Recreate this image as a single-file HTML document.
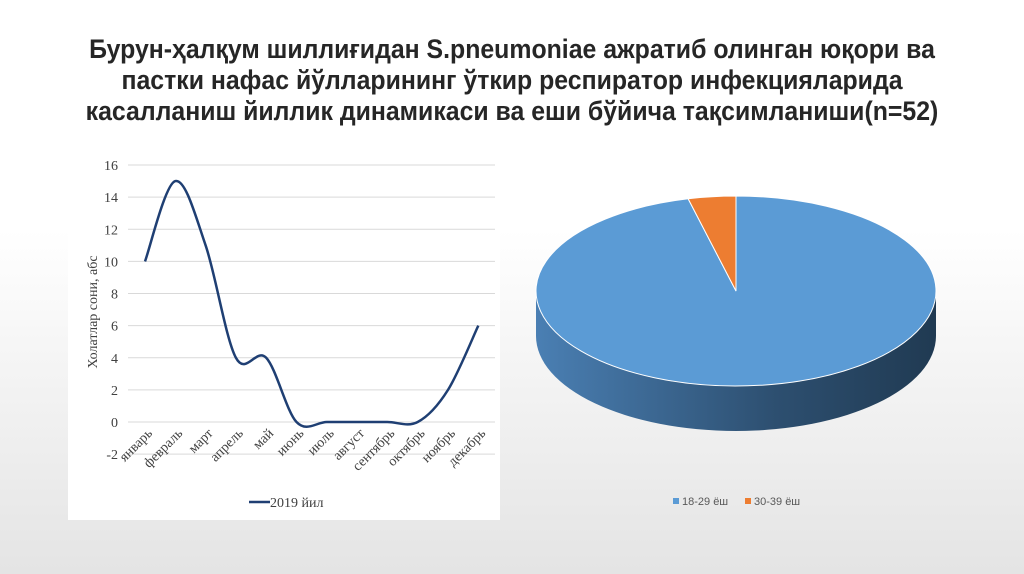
<!DOCTYPE html>
<html><head><meta charset="utf-8">
<style>
body{margin:0;width:1024px;height:574px;overflow:hidden;background:linear-gradient(#ffffff 0%,#ffffff 40%,#e4e4e4 100%);font-family:"Liberation Sans",sans-serif;}
#title{position:absolute;left:0;top:34px;width:1024px;text-align:center;font-size:27px;font-weight:bold;line-height:31px;color:#262626;transform:scaleX(0.92);}
svg{position:absolute;left:0;top:0}
</style></head><body>
<div id="title">Бурун-ҳалқум шиллиғидан S.pneumoniae ажратиб олинган юқори ва<br>пастки нафас йўлларининг ўткир респиратор инфекцияларида<br>касалланиш йиллик динамикаси ва еши бўйича тақсимланиши(n=52)</div>
<svg width="1024" height="574" id="svg">
<defs>
<linearGradient id="side" x1="0" x2="1" y1="0" y2="0">
<stop offset="0" stop-color="#4a7fb3"/><stop offset="0.6" stop-color="#2d4f70"/><stop offset="1" stop-color="#203a52"/>
</linearGradient>
</defs>
<rect x="68" y="150" width="432" height="370" fill="#fff"/>
<g id="lc"></g>
<g id="pc"></g>
</svg>
<script>
const months=["январь","февраль","март","апрель","май","июнь","июль","август","сентябрь","октябрь","ноябрь","декабрь"];
const cases2019=[10,15,11,4,4,0,0,0,0,0,2,6];
const yTicks=[-2,0,2,4,6,8,10,12,14,16];
const pieLabels=["18-29 ёш","30-39 ёш"];
const pieValues=[50,2];
const pieColors=["#5b9bd5","#ed7d31"];
const NS="http://www.w3.org/2000/svg";
function mk(t,a,p){const e=document.createElementNS(NS,t);for(const k in a)e.setAttribute(k,a[k]);p.appendChild(e);return e;}
const lc=document.getElementById('lc');
const y=v=>422-(v)*16.06;
const x=i=>145+i*30.3;
yTicks.forEach(t=>{
 const g=mk('line',{x1:128,x2:495,y1:y(t),y2:y(t),stroke:'#d9d9d9','stroke-width':1},lc);
 
 
 const tx=mk('text',{x:118,y:y(t)+5,'text-anchor':'end','font-family':'Liberation Serif,serif','font-size':14,fill:'#404040'},lc);
 tx.textContent=t;
 
 
});
months.forEach((m,i)=>{
 const tx=mk('text',{x:x(i)+8,y:434,'text-anchor':'end','font-family':'Liberation Serif,serif','font-size':14,fill:'#404040',transform:`rotate(-45 ${x(i)+8} 434)`},lc);
 tx.textContent=m;
 
 
});
const yl=mk('text',{x:0,y:0,'text-anchor':'middle','font-family':'Liberation Serif,serif','font-size':14,fill:'#404040',transform:'translate(97 312) rotate(-90)'},lc);
yl.textContent='Холатлар сони, абс';


const pts=cases2019.map((v,i)=>[x(i),y(v)]);
let d=`M${pts[0][0]},${pts[0][1]}`;
for(let i=0;i<pts.length-1;i++){const p0=pts[Math.max(0,i-1)],p1=pts[i],p2=pts[i+1],p3=pts[Math.min(pts.length-1,i+2)];
 d+=` C${p1[0]+(p2[0]-p0[0])/6},${p1[1]+(p2[1]-p0[1])/6} ${p2[0]-(p3[0]-p1[0])/6},${p2[1]-(p3[1]-p1[1])/6} ${p2[0]},${p2[1]}`;}
const ln=mk('path',{d:d,fill:'none',stroke:'#1f3f73','stroke-width':2.5},lc);


const lg=mk('line',{x1:249,x2:270,y1:502,y2:502,stroke:'#1f3f73','stroke-width':2.5},lc);


const lt=mk('text',{x:270,y:507,'font-family':'Liberation Serif,serif','font-size':14,fill:'#404040'},lc);
lt.textContent='2019 йил';


// pie
const pc=document.getElementById('pc');
const cx=736,cy=291,rx=200,ry=95,dep=45;
const side=mk('path',{d:`M${cx-rx},${cy} L${cx-rx},${cy+dep} A${rx},${ry} 0 0 0 ${cx+rx},${cy+dep} L${cx+rx},${cy} Z`,fill:'url(#side)'},pc);


const tot=pieValues.reduce((a,b)=>a+b,0);
let a0=0;
pieValues.forEach((v,i)=>{
 const a1=a0+v/tot*2*Math.PI;
 const P=a=>[cx+rx*Math.sin(a),cy-ry*Math.cos(a)];
 const s=P(a0),e=P(a1),large=v/tot>0.5?1:0;
 const sl=mk('path',{d:`M${cx},${cy} L${s[0]},${s[1]} A${rx},${ry} 0 ${large} 1 ${e[0]},${e[1]} Z`,fill:pieColors[i],stroke:'#fff','stroke-width':1},pc);
 
 
 a0=a1;
});
let lx=673;
pieLabels.forEach((l,i)=>{
 const r=mk('rect',{x:lx,y:498,width:6,height:6,fill:pieColors[i]},pc);
 
 
 const t=mk('text',{x:lx+9,y:505,'font-size':11,fill:'#595959'},pc);
 t.textContent=l;
 
 
 lx+=72;
});
</script>
</body></html>
